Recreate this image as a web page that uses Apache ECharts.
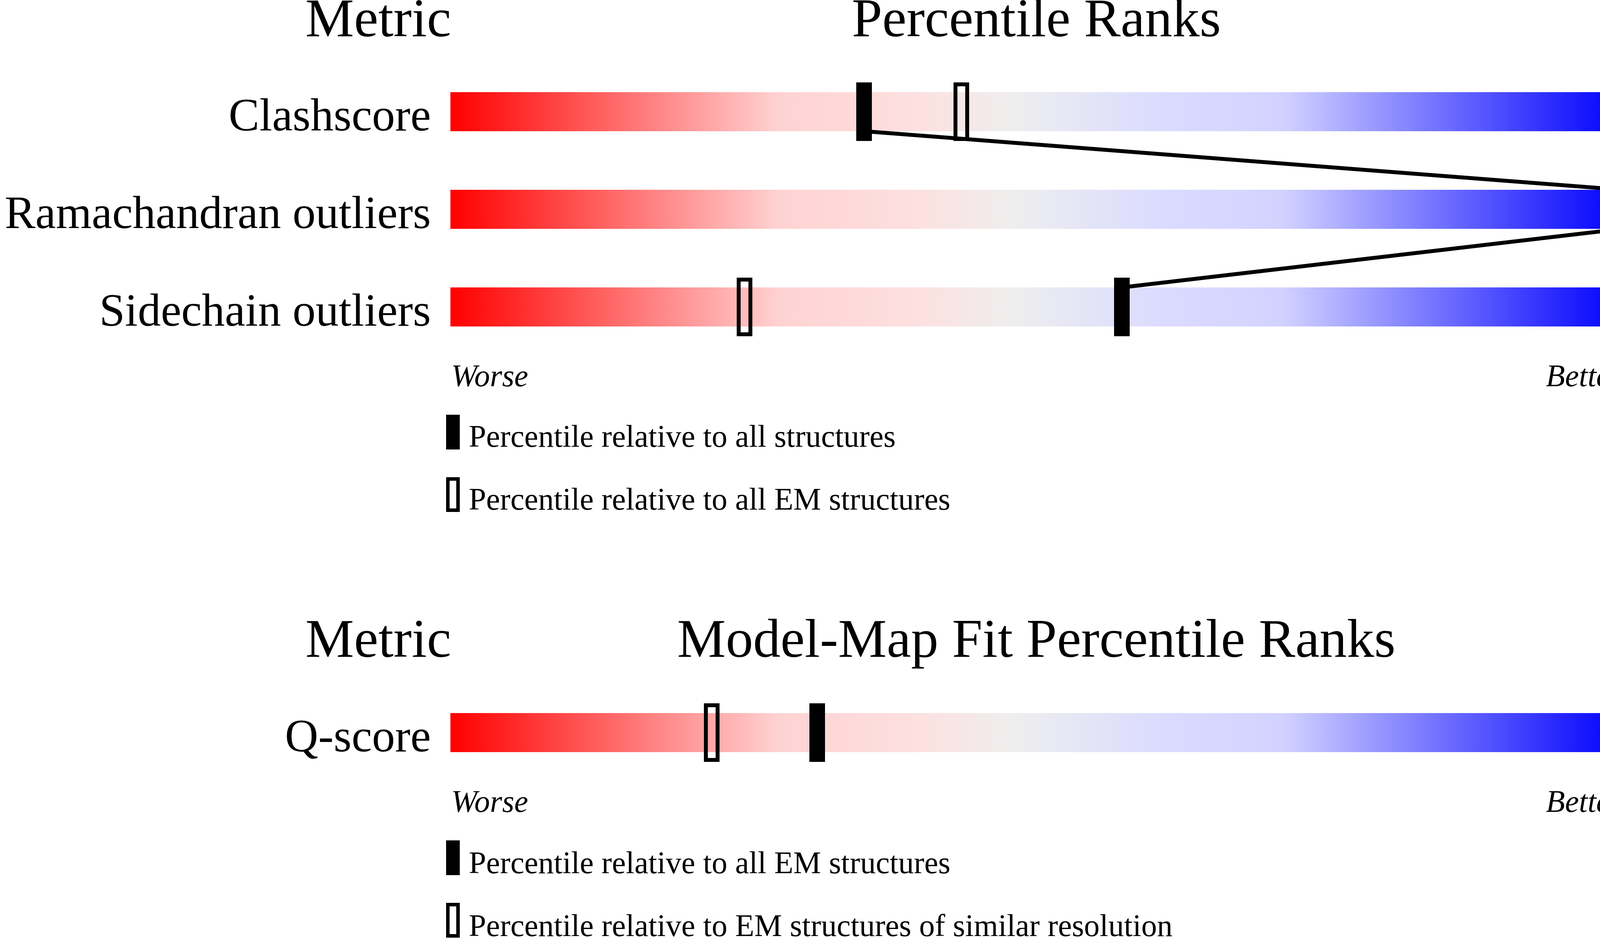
<!DOCTYPE html>
<html>
<head>
<meta charset="utf-8">
<title>Percentile ranks</title>
<script src="https://cdn.jsdelivr.net/npm/echarts@6/dist/echarts.min.js"></script>
<style>
  html, body { margin: 0; padding: 0; background: #fff; }
  #chart { width: 4485px; height: 2402px; }
</style>
</head>
<body>
<div id="chart"></div>
<script>
// Geometry validation metrics
const metrics = ["Clashscore", "Ramachandran outliers", "Sidechain outliers"];
const metricValues = ["8", "0", "1.4%"];
const pctAll = [35.3, 100, 57.3]; // relative to all structures
const pctEM = [43.6, 100, 25.1]; // relative to all EM structures

// Model-map fit metrics
const fitMetrics = ["Q-score"];
const fitValues = ["0.367"];
const fitPctEM = [31.3]; // relative to all EM structures
const fitPctRes = [22.3]; // relative to EM structures of similar resolution

const FONT = '"Liberation Serif", "Times New Roman", serif';

document.addEventListener("DOMContentLoaded", function () {
  let chartDom = document.getElementById("chart");
  let myChart = echarts.init(chartDom);

  const barGradient = {
    type: "linear",
    x: 0,
    y: 0,
    x2: 1,
    y2: 0,
    colorStops: [
      { offset: 0, color: "#ff0000" },
      { offset: 0.28, color: "#ffd2d2" },
      { offset: 0.4, color: "#fde0e0" },
      { offset: 0.48, color: "#eeeeee" },
      { offset: 0.6, color: "#dcdcff" },
      { offset: 0.71, color: "#d2d2ff" },
      { offset: 1, color: "#0000ff" },
    ],
  };

  function fullBars(n) {
    return new Array(n).fill(100);
  }

  function marker(filled) {
    return function (params, api) {
      const c = api.coord([api.value(0), api.value(1)]);
      if (filled) {
        return {
          type: "rect",
          shape: { x: c[0] - 20, y: c[1] - 75, width: 40, height: 150 },
          style: { fill: "#000" },
        };
      }
      return {
        type: "rect",
        shape: { x: c[0] - 15, y: c[1] - 70, width: 30, height: 140 },
        style: { fill: "none", stroke: "#000", lineWidth: 10 },
      };
    };
  }

  function connector(params, api) {
    const p1 = api.coord([api.value(0), api.value(1)]);
    const p2 = api.coord([api.value(2), api.value(3)]);
    return {
      type: "line",
      shape: { x1: p1[0], y1: p1[1] + 50, x2: p2[0], y2: p2[1] - 50 },
      style: { stroke: "#000", lineWidth: 10 },
    };
  }

  function points(values) {
    return values.map(function (v, i) {
      return [v, i];
    });
  }

  function segments(values) {
    let out = [];
    for (let i = 0; i < values.length - 1; i++) {
      out.push([values[i], i, values[i + 1], i + 1]);
    }
    return out;
  }

  function catAxis(grid, data, position, align, margin) {
    return {
      type: "category",
      gridIndex: grid,
      data: data,
      inverse: true,
      position: position,
      axisLine: { show: false },
      axisTick: { show: false },
      splitLine: { show: false },
      axisLabel: {
        align: align,
        margin: margin,
        formatter: function (v) {
          return "{t|" + v + "}";
        },
        rich: {
          t: {
            color: "#000",
            fontSize: 118,
            fontFamily: FONT,
            padding: [34, 0, 0, 0],
          },
        },
      },
    };
  }

  function headerText(text, x, y, align) {
    return {
      type: "text",
      x: x,
      y: y,
      style: {
        text: text,
        fill: "#000",
        font: "140px " + FONT,
        textAlign: align,
        textVerticalAlign: "middle",
      },
    };
  }

  function smallText(text, x, y, align, italic) {
    return {
      type: "text",
      x: x,
      y: y,
      style: {
        text: text,
        fill: "#000",
        font: (italic ? "italic " : "") + "80px " + FONT,
        textAlign: align,
        textVerticalAlign: "middle",
      },
    };
  }

  function legendKey(x, y, filled) {
    if (filled) {
      return {
        type: "rect",
        shape: { x: x, y: y, width: 35, height: 89 },
        style: { fill: "#000" },
      };
    }
    return {
      type: "rect",
      shape: { x: x + 4.5, y: y + 4.5, width: 26, height: 80 },
      style: { fill: "none", stroke: "#000", lineWidth: 9 },
    };
  }

  let option = {
    animation: false,
    backgroundColor: "#fff",
    grid: [
      { left: 1153, width: 3000, top: 161, height: 750 },
      { left: 1153, width: 3000, top: 1751, height: 250 },
    ],
    xAxis: [
      { type: "value", gridIndex: 0, min: 0, max: 100, show: false },
      { type: "value", gridIndex: 1, min: 0, max: 100, show: false },
    ],
    yAxis: [
      catAxis(0, metrics, "left", "right", 50),
      catAxis(0, metricValues, "right", "left", 50),
      catAxis(1, fitMetrics, "left", "right", 50),
      catAxis(1, fitValues, "right", "left", 50),
    ],
    series: [
      {
        type: "bar",
        xAxisIndex: 0,
        yAxisIndex: 0,
        data: fullBars(metrics.length),
        barWidth: 100,
        itemStyle: { color: barGradient },
        silent: true,
      },
      {
        type: "custom",
        xAxisIndex: 0,
        yAxisIndex: 0,
        renderItem: marker(false),
        data: points(pctEM),
        z: 3,
      },
      {
        type: "custom",
        xAxisIndex: 0,
        yAxisIndex: 0,
        renderItem: connector,
        encode: { x: [0, 2], y: [1, 3] },
        data: segments(pctAll),
        z: 4,
      },
      {
        type: "custom",
        xAxisIndex: 0,
        yAxisIndex: 0,
        renderItem: marker(true),
        data: points(pctAll),
        z: 5,
      },
      {
        type: "bar",
        xAxisIndex: 1,
        yAxisIndex: 2,
        data: fullBars(fitMetrics.length),
        barWidth: 100,
        itemStyle: { color: barGradient },
        silent: true,
      },
      {
        type: "custom",
        xAxisIndex: 1,
        yAxisIndex: 2,
        renderItem: marker(false),
        data: points(fitPctRes),
        z: 3,
      },
      {
        type: "custom",
        xAxisIndex: 1,
        yAxisIndex: 2,
        renderItem: marker(true),
        data: points(fitPctEM),
        z: 5,
      },
    ],
    graphic: [
      headerText("Metric", 1155, 56, "right"),
      headerText("Percentile Ranks", 2653, 56, "center"),
      headerText("Value", 4155, 56, "left"),
      smallText("Worse", 1155, 968, "left", true),
      smallText("Better", 4153, 968, "right", true),
      legendKey(1142, 1062, true),
      smallText("Percentile relative to all structures", 1200, 1123, "left", false),
      legendKey(1142, 1222, false),
      smallText("Percentile relative to all EM structures", 1200, 1284, "left", false),

      headerText("Model-Map Fit Percentile Ranks", 2653, 1645, "center"),
      headerText("Metric", 1155, 1645, "right"),
      headerText("Value", 4155, 1645, "left"),
      smallText("Worse", 1155, 2058, "left", true),
      smallText("Better", 4153, 2058, "right", true),
      legendKey(1142, 2152, true),
      smallText("Percentile relative to all EM structures", 1200, 2215, "left", false),
      legendKey(1142, 2312, false),
      smallText("Percentile relative to EM structures of similar resolution", 1200, 2376, "left", false),
    ],
  };

  myChart.setOption(option);

  window.addEventListener("resize", function () {
    myChart.resize();
  });
});
</script>
</body>
</html>
